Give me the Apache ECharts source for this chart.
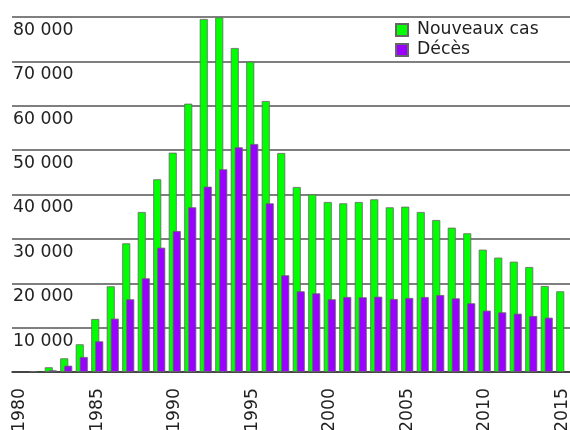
<!DOCTYPE html>
<html>
<head>
<meta charset="utf-8">
<script src="https://cdn.jsdelivr.net/npm/echarts@6/dist/echarts.min.js"></script>
<style>
  html, body { margin: 0; padding: 0; background: #fff; }
  #box { width: 570px; height: 430px; }
</style>
</head>
<body>
<div id="box"></div>
<script>
var years = ['1980', '1981', '1982', '1983', '1984', '1985', '1986', '1987', '1988', '1989',
             '1990', '1991', '1992', '1993', '1994', '1995', '1996', '1997', '1998', '1999',
             '2000', '2001', '2002', '2003', '2004', '2005', '2006', '2007', '2008', '2009',
             '2010', '2011', '2012', '2013', '2014', '2015'];
var newCases = [null, 200, 1060, 3080, 6240, 11940, 19310, 29000, 36060, 43420,
                49420, 60460, 79550, 79900, 73010, 69930, 61070, 49350, 41690, 40040,
                38310, 38010, 38310, 38910, 37110, 37250, 36060, 34250, 32520, 31250,
                27570, 25770, 24860, 23660, 19380, 18180];
var deaths = [null, null, 380, 1420, 3380, 6910, 12020, 16380, 21110, 28010,
              31770, 37110, 41760, 45680, 50640, 51380, 38010, 21790, 18180, 17730,
              16380, 16900, 16830, 16970, 16450, 16680, 16900, 17350, 16600, 15480,
              13820, 13440, 13140, 12620, 12240, null];
var seriesNames = ['Nouveaux cas', 'Décès'];
var colors = ['#00ff00', '#9900ff'];

var chartDom = document.getElementById('box');
var myChart = echarts.init(chartDom);
var font = 'DejaVu Sans';

var option = {
  animation: false,
  color: colors,
  textStyle: { fontFamily: font },
  // labels run off the bottom edge in the original, so don't let the grid shrink
  grid: { left: 12, right: 0, top: 17, bottom: 58, containLabel: false, outerBoundsMode: 'none' },
  legend: {
    orient: 'vertical',
    left: 395,
    top: 20,
    padding: 0,
    itemWidth: 12,
    itemHeight: 12,
    itemGap: 0,
    icon: 'rect',
    textStyle: { fontSize: 17.3, color: '#222', lineHeight: 20, fontFamily: font, padding: [0, 0, 0, 4] },
    data: seriesNames
  },
  xAxis: {
    type: 'category',
    data: years,
    axisLine: { lineStyle: { color: '#333', width: 1.5 } },
    axisTick: { interval: 0, length: 9, lineStyle: { color: '#444', width: 1.5 } },
    axisLabel: {
      interval: 4,
      rotate: 90,
      margin: 16,
      fontSize: 17.3,
      color: '#222',
      fontFamily: font
    }
  },
  yAxis: {
    type: 'value',
    min: 0,
    max: 80000,
    interval: 10000,
    axisLine: { show: false },
    axisTick: { show: false },
    splitLine: { lineStyle: { color: '#555', width: 1.5 } },
    axisLabel: {
      inside: true,
      margin: 1,
      verticalAlign: 'top',
      padding: [5, 0, 0, 0],
      fontSize: 17.3,
      color: '#222',
      fontFamily: font,
      formatter: function (v) {
        if (v === 0) return '';
        return String(v).replace(/\B(?=(\d{3})+(?!\d))/g, ' ');
      }
    }
  },
  series: [
    {
      name: seriesNames[0],
      type: 'bar',
      barWidth: 8,
      barGap: '-50%',
      itemStyle: { color: colors[0], borderColor: '#666', borderWidth: 0.8 },
      data: newCases
    },
    {
      name: seriesNames[1],
      type: 'bar',
      barWidth: 8,
      barGap: '-50%',
      itemStyle: { color: colors[1], borderColor: '#666', borderWidth: 0.8 },
      data: deaths
    }
  ]
};
option && myChart.setOption(option);
</script>
</body>
</html>
